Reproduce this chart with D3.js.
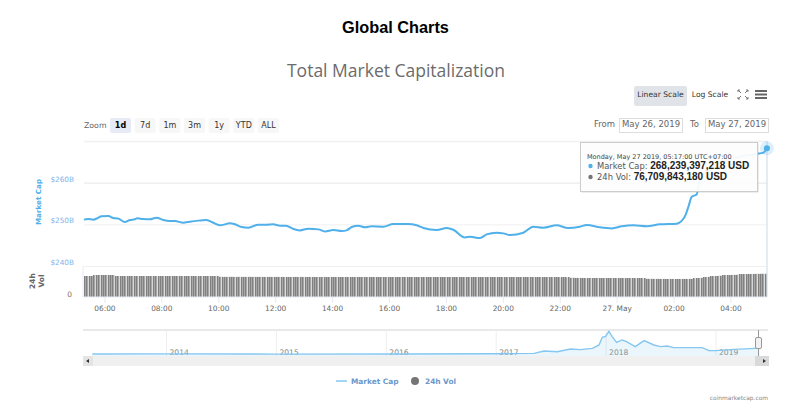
<!DOCTYPE html>
<html>
<head>
<meta charset="utf-8">
<script src="https://cdnjs.cloudflare.com/ajax/libs/d3/7.8.5/d3.min.js"></script>
<style>
body { margin: 0; background: #fff; }
text { font-family: "DejaVu Sans", sans-serif; }
</style>
</head>
<body>
<div id="chart"></div>
<script>
// hours counted from 00:00 on May 26, so 24 is midnight May 27
const capHours = [5.28,5.43,5.61,5.75,5.90,6.14,6.31,6.49,6.72,6.90,7.07,7.15,7.36,7.60,7.83,8.07,8.30,8.48,8.77,9.00,9.30,9.57,9.77,10.06,10.41,10.59,10.82,11.06,11.41,11.70,11.93,12.17,12.38,12.64,12.87,13.16,13.52,13.75,14.04,14.34,14.51,14.69,14.92,15.16,15.39,15.80,16.15,16.68,16.97,17.21,17.68,18.03,18.26,18.67,18.85,19.20,19.43,19.78,20.02,20.25,20.72,21.07,21.42,21.89,22.30,22.71,22.95,23.41,23.83,24.18,24.59,25.06,25.52,26.11,26.40,26.52,26.64,26.81,26.93,27.40,28.10,28.92,29.16,29.28];
const capValues = [251.13,251.29,251.13,251.45,251.93,252.01,251.53,251.37,250.56,251.05,251.21,251.45,251.29,251.21,251.61,251.05,250.80,250.80,250.40,250.64,250.89,251.05,250.56,249.76,250.24,250.00,249.36,249.20,249.92,249.92,250.00,249.68,249.68,248.87,248.55,248.95,248.79,248.31,248.63,248.39,248.55,249.36,249.68,249.28,249.52,249.44,250.08,250.08,249.76,249.11,248.63,249.11,248.71,246.86,247.02,246.70,247.58,247.99,247.83,247.42,247.99,249.44,249.20,249.76,249.11,249.44,249.84,249.28,249.03,249.52,249.76,249.52,250.00,250.16,251.93,254.19,256.61,257.17,261.0,263.8,265.8,266.9,267.2,268.24];

// one bar every five minutes
const volValues = [
68.6,68.5,68.6,68.7,71.8,71.9,71.9,72.0,71.8,71.9,71.7,71.8,71.7,68.6,68.5,68.4,68.5,68.4,68.6,68.5,68.4,68.3,68.4,68.5,
68.4,68.3,68.4,68.5,68.6,68.4,68.3,68.4,68.5,68.4,68.3,68.2,68.4,68.5,68.6,68.5,68.4,68.3,68.4,68.5,68.3,68.4,67.6,67.4,
68.4,68.5,68.6,68.5,68.4,68.6,68.5,68.4,68.5,66.4,66.3,66.2,66.3,66.4,66.3,66.2,66.1,66.3,66.2,66.3,66.1,66.2,66.0,66.1,
66.0,65.9,66.0,65.9,65.8,65.9,65.8,65.9,65.7,65.8,65.9,65.8,65.7,65.8,65.6,65.7,65.8,65.7,65.6,65.7,65.8,65.7,65.6,65.7,
65.6,65.7,65.6,65.5,65.6,65.7,65.6,65.5,65.6,65.5,65.6,65.5,65.4,65.5,65.6,65.5,65.4,65.5,65.6,65.5,65.4,65.5,65.4,65.5,
65.4,65.5,65.4,65.3,65.4,65.5,65.4,65.3,65.4,65.5,65.4,65.3,65.4,65.3,65.4,65.5,65.4,65.3,65.2,65.3,65.4,65.3,65.4,65.3,
65.4,65.3,65.2,65.3,65.4,65.3,65.2,65.3,65.4,65.3,65.2,65.3,65.2,65.3,65.4,65.3,65.2,65.3,65.2,65.3,65.4,65.3,65.2,65.3,
65.2,65.3,65.2,65.1,65.2,65.3,65.2,65.1,65.2,65.3,65.2,65.1,65.2,65.1,65.2,65.3,65.2,65.1,65.2,65.1,65.0,65.1,65.2,65.1,
65.0,64.9,65.0,64.8,64.9,64.7,64.6,64.7,64.5,64.3,64.4,64.2,64.0,63.6,63.2,62.8,62.4,62.1,62.2,62.0,62.1,62.0,61.9,62.0,
62.0,61.9,62.0,61.8,61.9,62.0,61.8,61.9,61.8,61.7,61.8,61.6,61.7,61.5,61.6,61.4,61.3,61.2,61.0,60.8,60.6,60.2,60.0,59.8,
59.6,59.8,59.4,59.6,59.2,59.0,59.4,59.1,59.3,59.0,59.2,59.3,59.2,59.4,59.3,59.6,59.8,60.4,61.2,62.2,63.4,64.4,65.4,66.3,
67.2,68.0,68.6,69.4,70.1,70.8,71.2,71.6,72.0,72.4,72.7,73.2,73.6,74.0,74.4,75.0,75.2,75.4,75.7,76.0,76.2,76.4,76.6,76.7
];

// navigator overview, decimal years and market cap in billions
const navYears = [2013.33,2014.0,2015.0,2016.13,2017.01,2017.35,2017.44,2017.56,2017.68,2017.77,2017.88,2017.94,2017.97,2018.0,2018.03,2018.06,2018.10,2018.15,2018.19,2018.27,2018.35,2018.44,2018.50,2018.56,2018.62,2018.71,2018.88,2018.94,2019.0,2019.17,2019.36,2019.40];
const navValues = [79,85,76,79,90,101,178,156,245,223,267,377,631,664,830,653,465,543,487,322,521,377,322,344,289,289,289,190,190,234,267,268];

const capTicks = [240, 250, 260, 270];
const hourTicks = [6, 8, 10, 12, 14, 16, 18, 20, 22, 24, 26, 28];
const yearTicks = [2014, 2015, 2016, 2017, 2018, 2019];
const zoomButtons = ["1d", "7d", "1m", "3m", "1y", "YTD", "ALL"];

const blue = "#4fb0ea";
const navBlue = "#85c7f0";
const grey = "#666";
const volGrey = "#757575";

const left = 84, right = 767;

const svg = d3.select("#chart").append("svg").attr("width", 794).attr("height", 412).style("display", "block");

const x = d3.scaleLinear().domain([5.283, 29.283]).range([left, right]);
const y = d3.scaleLinear().domain([240, 270]).range([266, 141]);
const volX = d3.scaleBand().domain(d3.range(volValues.length)).range([left, right]);
const volY = d3.scaleLinear().domain([0, 76.7]).range([297, 273.5]);
const navX = d3.scaleLinear().domain([2014, 2019]).range([166, 715.5]);
const navY = d3.scaleLinear().domain([0, 830]).range([356.4, 331.3]);

// titles
svg.append("text").attr("x", 395.5).attr("y", 33).attr("text-anchor", "middle")
    .style("font-family", "'Liberation Sans'").style("font-weight", "bold").style("font-size", "16.3px").attr("fill", "#000")
    .text("Global Charts");
svg.append("text").attr("x", 396).attr("y", 77).attr("text-anchor", "middle")
    .style("font-family", "'Open Sans'").style("font-size", "17.5px").attr("fill", "#6b6b6b")
    .text("Total Market Capitalization");

// price axis and grid
const capAxis = svg.append("g").attr("transform", "translate(" + left + ",0)")
    .call(d3.axisLeft(y).tickValues(capTicks).tickSize(-(right - left)).tickPadding(10).tickFormat(d => d == 270 ? "" : "$" + d + "B"));
capAxis.select(".domain").remove();
capAxis.selectAll("line").attr("stroke", "#f0f0f0").attr("stroke-width", d => d == 240 ? 1 : d == 250 ? 1 : 1.6);
capAxis.selectAll("text").attr("fill", "#7cb5ec").attr("dy", "-1.5px").style("font-size", "7.3px").style("font-family", "'DejaVu Sans'");

svg.append("text").attr("transform", "translate(41,202) rotate(-90)").attr("text-anchor", "middle")
    .style("font-size", "7.2px").style("font-weight", "bold").attr("fill", blue).text("Market Cap");

// volume panel
svg.append("text").attr("transform", "translate(35,281) rotate(-90)").attr("text-anchor", "middle")
    .style("font-size", "7.5px").style("font-weight", "bold").attr("fill", grey).text("24h");
svg.append("text").attr("transform", "translate(44,281) rotate(-90)").attr("text-anchor", "middle")
    .style("font-size", "7.5px").style("font-weight", "bold").attr("fill", grey).text("Vol");
svg.append("text").attr("x", 72).attr("y", 297).attr("text-anchor", "end")
    .style("font-size", "7.5px").attr("fill", "#8a6d5a").text("0");

svg.append("g").selectAll("rect").data(volValues).join("rect")
    .attr("x", (d, i) => volX(i))
    .attr("y", d => volY(d))
    .attr("width", volX.bandwidth())
    .attr("height", d => volY(0) - volY(d))
    .attr("fill", "#d0d0d0");
svg.append("g").selectAll("rect").data(volValues).join("rect")
    .attr("x", (d, i) => Math.round(volX(i)))
    .attr("y", d => Math.round(volY(d)))
    .attr("width", 1.5)
    .attr("height", d => volY(0) - Math.round(volY(d)))
    .attr("fill", "#808080");

svg.append("line").attr("x1", left - 1).attr("x2", left - 1).attr("y1", 266).attr("y2", 297).attr("stroke", "#e6ebf5");

const hourAxis = svg.append("g").attr("transform", "translate(0,297)")
    .call(d3.axisBottom(x).tickValues(hourTicks).tickSize(6).tickPadding(3).tickFormat(d => d == 24 ? "27. May" : String(d % 24).padStart(2, "0") + ":00"));
hourAxis.select(".domain").attr("stroke", "#e6ebf5").attr("d", "M" + (left - 1) + ",0H" + right);
hourAxis.selectAll("line").attr("stroke", "#e6ebf5");
hourAxis.selectAll("text").attr("fill", grey).style("font-size", "7.4px").style("font-family", "'DejaVu Sans'");

// market cap line
svg.append("line").attr("x1", right).attr("x2", right).attr("y1", 141).attr("y2", 297).attr("stroke", "#ccd6eb");
const capLine = d3.line().x((d, i) => x(capHours[i])).y(d => y(d)).curve(d3.curveMonotoneX);
svg.append("path").attr("d", capLine(capValues)).attr("fill", "none").attr("stroke", blue).attr("stroke-width", 2);
const lastHour = capHours[capHours.length - 1], lastCap = capValues[capValues.length - 1];
svg.append("circle").attr("cx", x(lastHour)).attr("cy", y(lastCap)).attr("r", 7).attr("fill", blue).attr("opacity", 0.2);
svg.append("circle").attr("cx", x(lastHour)).attr("cy", y(lastCap)).attr("r", 3).attr("fill", blue);

// navigator
svg.append("line").attr("x1", left - 1).attr("x2", right + 1).attr("y1", 330).attr("y2", 330).attr("stroke", "#e9e9e9").attr("stroke-width", 2);
const navAxis = svg.append("g").attr("transform", "translate(0,356)")
    .call(d3.axisTop(navX).tickValues(yearTicks).tickSize(26).tickFormat(d => d));
navAxis.select(".domain").remove();
navAxis.selectAll("line").attr("stroke", "#eeeeee");
navAxis.selectAll("text").attr("text-anchor", "start").attr("x", 3).attr("y", -1).attr("fill", "#888")
    .style("font-size", "7.6px").style("font-family", "'DejaVu Sans'");
const navArea = d3.area().x((d, i) => navX(navYears[i])).y0(navY(0)).y1(d => navY(d));
const navLine = d3.line().x((d, i) => navX(navYears[i])).y(d => navY(d));
svg.append("path").attr("d", navArea(navValues)).attr("fill", navBlue).attr("opacity", 0.17);
svg.append("path").attr("d", navLine(navValues)).attr("fill", "none").attr("stroke", navBlue).attr("stroke-width", 1.4);

// scrollbar
svg.append("rect").attr("x", 83).attr("y", 356).attr("width", 686).attr("height", 10).attr("fill", "#f0f0f0");
svg.append("rect").attr("x", 83).attr("y", 356).attr("width", 10).attr("height", 10).attr("fill", "#e4e4e4");
svg.append("rect").attr("x", 755).attr("y", 356).attr("width", 14).attr("height", 10).attr("fill", "#d9d9d9");
svg.append("path").attr("d", "M89,359 L86,361 L89,363 Z").attr("fill", "#333");
svg.append("path").attr("d", "M763,359 L766,361 L763,363 Z").attr("fill", "#333");
svg.append("line").attr("x1", 758.5).attr("x2", 758.5).attr("y1", 330).attr("y2", 356).attr("stroke", "#999");
svg.append("rect").attr("x", 755.5).attr("y", 337.5).attr("width", 6).attr("height", 11).attr("rx", 1.5).attr("fill", "#f2f2f2").attr("stroke", "#999");

// range selector
svg.append("text").attr("x", 84).attr("y", 128).style("font-size", "7.8px").attr("fill", grey).text("Zoom");
const buttonX = d3.scalePoint().domain(zoomButtons).range([110, 258]);
zoomButtons.forEach((b, i) => {
    svg.append("rect").attr("x", buttonX(b)).attr("y", 118).attr("width", 21).attr("height", 15).attr("rx", 2)
        .attr("fill", i == 0 ? "#e6ebf5" : "#f7f7f7");
    svg.append("text").attr("x", buttonX(b) + 10.5).attr("y", 127.5).attr("text-anchor", "middle")
        .style("font-size", "8px").style("font-weight", i == 0 ? "bold" : "normal").attr("fill", i == 0 ? "#000" : "#333").text(b);
});

svg.append("text").attr("x", 594).attr("y", 127).style("font-size", "8.5px").attr("fill", grey).text("From");
svg.append("text").attr("x", 690).attr("y", 127).style("font-size", "8.5px").attr("fill", grey).text("To");
[[620, "May 26, 2019"], [706, "May 27, 2019"]].forEach(d => {
    svg.append("rect").attr("x", d[0] - 0.5).attr("y", 118.5).attr("width", 63).attr("height", 14).attr("fill", "#fff").attr("stroke", "#ddd");
    svg.append("text").attr("x", d[0] + 31).attr("y", 127).attr("text-anchor", "middle").style("font-size", "8.5px").attr("fill", grey).text(d[1]);
});

// scale buttons and menu icons
svg.append("rect").attr("x", 634).attr("y", 86).attr("width", 53).attr("height", 20).attr("rx", 2).attr("fill", "#e0e3e8");
svg.append("text").attr("x", 660.5).attr("y", 97).attr("text-anchor", "middle").style("font-size", "7.6px").attr("fill", "#333").text("Linear Scale");
svg.append("text").attr("x", 710).attr("y", 97).attr("text-anchor", "middle").style("font-size", "7.6px").attr("fill", "#333").text("Log Scale");
svg.append("path").attr("fill", "none").attr("stroke", "#777")
    .attr("d", "M738,90L741,93 M748,90L745,93 M738,99L741,96 M748,99L745,96 M738,92V90H740 M746,90H748V92 M738,97V99H740 M746,99H748V97");
[91, 94.5, 98].forEach(v => svg.append("rect").attr("x", 755).attr("y", v - 1).attr("width", 12).attr("height", 2).attr("fill", "#666"));

// tooltip
svg.append("rect").attr("x", 580.5).attr("y", 142.5).attr("width", 177).attr("height", 49).attr("fill", "#999").attr("opacity", 0.35).attr("transform", "translate(1,1)");
svg.append("rect").attr("x", 580.5).attr("y", 142.5).attr("width", 177).attr("height", 49).attr("fill", "#fff").attr("fill-opacity", 0.93).attr("stroke", "#ccc");
svg.append("text").attr("x", 587).attr("y", 158.5).style("font-size", "6.5px").attr("fill", "#444").text("Monday, May 27 2019, 05:17:00 UTC+07:00");
svg.append("circle").attr("cx", 590.5).attr("cy", 166).attr("r", 2.2).attr("fill", blue);
svg.append("circle").attr("cx", 590.5).attr("cy", 177).attr("r", 2.2).attr("fill", volGrey);
const capTip = svg.append("text").attr("x", 597).attr("y", 169).style("font-size", "8.4px").attr("fill", "#555");
capTip.append("tspan").text("Market Cap: ");
capTip.append("tspan").style("font-family", "'Liberation Sans'").style("font-size", "10px").style("font-weight", "bold").attr("fill", "#222").text("268,239,397,218 USD");
const volTip = svg.append("text").attr("x", 597).attr("y", 180).style("font-size", "8.4px").attr("fill", "#555");
volTip.append("tspan").text("24h Vol: ");
volTip.append("tspan").style("font-family", "'Liberation Sans'").style("font-size", "10px").style("font-weight", "bold").attr("fill", "#222").text("76,709,843,180 USD");

// legend and credit
svg.append("line").attr("x1", 336).attr("x2", 347).attr("y1", 381).attr("y2", 381).attr("stroke", navBlue).attr("stroke-width", 1.5);
svg.append("text").attr("x", 351).attr("y", 384).style("font-size", "7.4px").style("font-weight", "bold").attr("fill", "#6a98cc").text("Market Cap");
svg.append("circle").attr("cx", 415).attr("cy", 381).attr("r", 4).attr("fill", volGrey);
svg.append("text").attr("x", 425).attr("y", 384).style("font-size", "7.4px").style("font-weight", "bold").attr("fill", "#6a98cc").text("24h Vol");
svg.append("text").attr("x", 768).attr("y", 400).attr("text-anchor", "end").style("font-size", "5.9px").attr("fill", "#888").text("coinmarketcap.com");
</script>
</body>
</html>
